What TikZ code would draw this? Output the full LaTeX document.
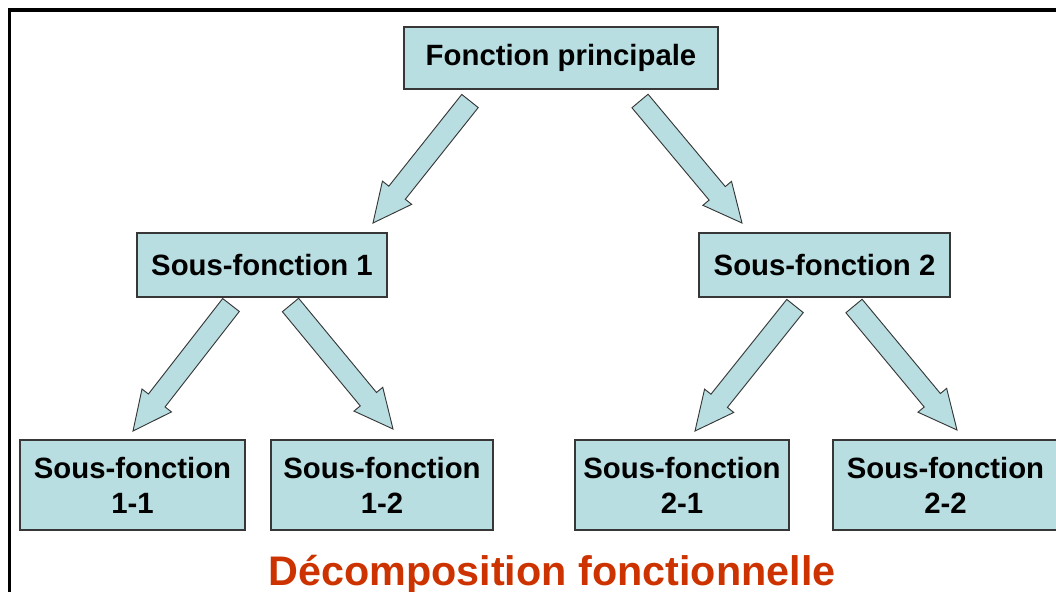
\documentclass[tikz,border=0pt]{standalone}
\usepackage{fontspec}
\setmainfont{Liberation Sans}
\usetikzlibrary{calc}
\definecolor{boxfill}{RGB}{184,222,225}
\definecolor{boxline}{RGB}{55,55,55}
\definecolor{titlered}{RGB}{204,51,0}

% Block arrow from coordinate #1 (tail) to coordinate #2 (tip)
\newcommand\fatarrow[2]{%
  \coordinate (#1-neck) at ($(#2)!29pt!(#1)$);
  \draw[arrowbody]
    ($(#1)!7.9pt!90:(#2)$) -- ($(#1-neck)!7.9pt!90:(#2)$) --
    ($(#1-neck)!14pt!90:(#2)$) -- (#2) --
    ($(#1-neck)!14pt!-90:(#2)$) -- ($(#1-neck)!7.9pt!-90:(#2)$) --
    ($(#1)!7.9pt!-90:(#2)$) -- cycle;
}

\begin{document}
\begin{tikzpicture}[x=0.75pt,y=-0.75pt,
  fbox/.style={draw=boxline, line width=1.1pt, fill=boxfill, inner sep=0pt,
    align=center, font=\fontsize{22}{26.25}\selectfont\bfseries},
  arrowbody/.style={draw=boxline, line width=0.7pt, fill=boxfill, line join=miter}]
\useasboundingbox (0,0) rectangle (1056,592);
\clip (0,0) rectangle (1056,592);

% outer frame
\draw[line width=2.4pt] (9.5,620) -- (9.5,10) -- (1080,10);

% boxes
\node[fbox, minimum width=235.5pt, minimum height=46.5pt] (fp) at (561,58) {Fonction principale};
\node[fbox, minimum width=187.5pt, minimum height=48pt] (sf1) at (262,265) {Sous-fonction 1};
\node[fbox, minimum width=188.25pt, minimum height=48pt] (sf2) at (824.5,265) {Sous-fonction 2};
\node[fbox, minimum width=168.75pt, minimum height=67.5pt] (sf11) at (132.5,485) {Sous-fonction\\1-1};
\node[fbox, minimum width=166.5pt, minimum height=67.5pt] (sf12) at (382,485) {Sous-fonction\\1-2};
\node[fbox, minimum width=160.5pt, minimum height=67.5pt] (sf21) at (682,485) {Sous-fonction\\2-1};
\node[fbox, minimum width=168.75pt, minimum height=67.5pt] (sf22) at (945.5,485) {Sous-fonction\\2-2};

% arrow ends
\coordinate (t1) at (470,101);  \coordinate (p1) at (373,223);
\coordinate (t2) at (640,101);  \coordinate (p2) at (742,223);
\coordinate (t3) at (231,305);  \coordinate (p3) at (133,431);
\coordinate (t4) at (290.5,305);\coordinate (p4) at (393,429);
\coordinate (t5) at (795,306);  \coordinate (p5) at (695,431);
\coordinate (t6) at (854,306);  \coordinate (p6) at (957,430);

\fatarrow{t1}{p1}
\fatarrow{t2}{p2}
\fatarrow{t3}{p3}
\fatarrow{t4}{p4}
\fatarrow{t5}{p5}
\fatarrow{t6}{p6}

% caption
\node[anchor=base, text=titlered, inner sep=0pt, font=\fontsize{31}{36}\selectfont\bfseries]
  (title) at (552,585) {Décomposition fonctionnelle};
\end{tikzpicture}
\end{document}
